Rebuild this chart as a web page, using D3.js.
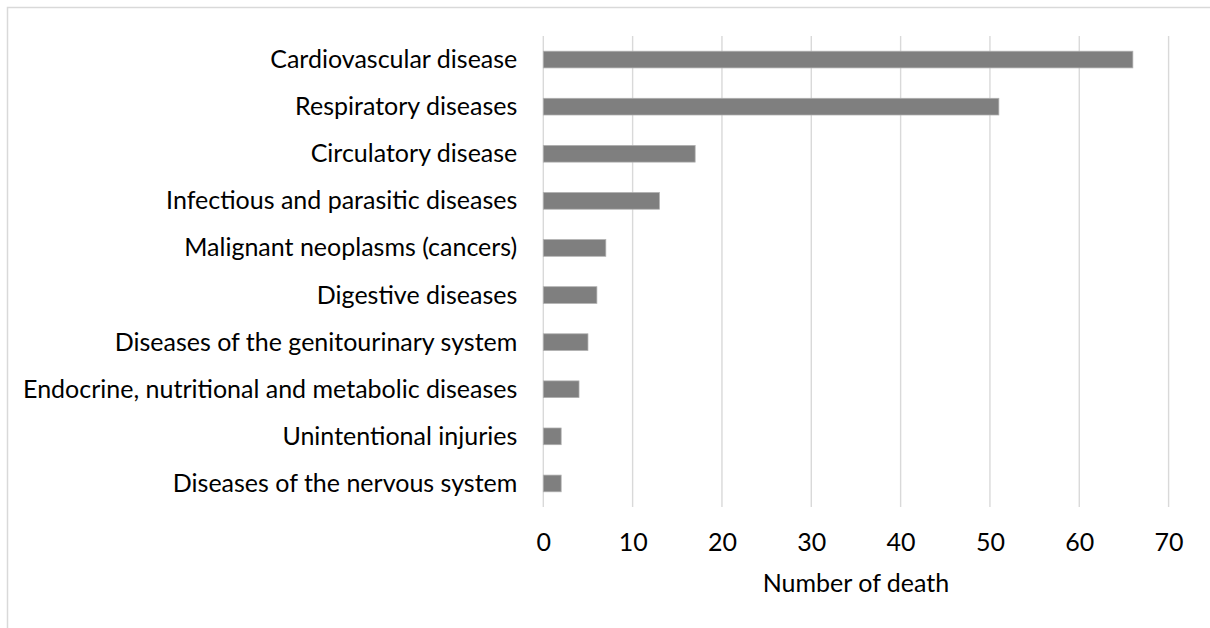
<!DOCTYPE html>
<html>
<head>
<meta charset="utf-8">
<script src="https://cdn.jsdelivr.net/npm/d3@7"></script>
<style>
  html, body { margin: 0; padding: 0; background: #ffffff; }
  svg { display: block; }
  text { font-family: Lato, "Open Sans", sans-serif; fill: #000000; }
</style>
</head>
<body>
<svg id="chart" width="1210" height="628"></svg>
<script>
// Causes of death, top to bottom
const categories = [
  "Cardiovascular disease",
  "Respiratory diseases",
  "Circulatory disease",
  "Infectious and parasitic diseases",
  "Malignant neoplasms (cancers)",
  "Digestive diseases",
  "Diseases of the genitourinary system",
  "Endocrine, nutritional and metabolic diseases",
  "Unintentional injuries",
  "Diseases of the nervous system"
];
const deaths = [66, 51, 17, 13, 7, 6, 5, 4, 2, 2];
const xTicks = [0, 10, 20, 30, 40, 50, 60, 70];
const xTitle = "Number of death";

const svg = d3.select("#chart");
const W = 1210, H = 628;
const plot = { left: 543.3, right: 1168.6, top: 36, bottom: 507 };
const fontSize = "25px";

// outer frame
svg.append("rect")
  .attr("x", 7.5).attr("y", 7.5)
  .attr("width", W).attr("height", H)
  .attr("fill", "none").attr("stroke", "#d9d9d9").attr("stroke-width", 1.5);

const x = d3.scaleLinear().domain([0, 70]).range([plot.left, plot.right]);
const y = d3.scaleBand().domain(categories).range([plot.top, plot.bottom])
  .paddingInner(0.645).paddingOuter(0.3225);

// vertical gridlines
svg.append("g").selectAll("line").data(xTicks).join("line")
  .attr("x1", d => x(d)).attr("x2", d => x(d))
  .attr("y1", plot.top).attr("y2", plot.bottom)
  .attr("stroke", "#d9d9d9").attr("stroke-width", 1.4);

// bars
svg.append("g").selectAll("rect").data(categories).join("rect")
  .attr("x", x(0))
  .attr("y", d => y(d))
  .attr("width", (d, i) => x(deaths[i]) - x(0))
  .attr("height", y.bandwidth())
  .attr("fill", "#7f7f7f")
  .attr("stroke", "#b0b0b0").attr("stroke-width", 0.75);

// category axis (labels only)
const yAxis = d3.axisLeft(y).tickSize(0).tickPadding(26);
const gy = svg.append("g").attr("transform", `translate(${plot.left},0)`).call(yAxis);
gy.select(".domain").remove();
gy.selectAll("text")
  .style("font-size", fontSize).style("font-family", "Lato, sans-serif")
  .attr("fill", "#000").attr("dy", "0.34em");

// value axis (labels only)
const xAxis = d3.axisBottom(x).tickValues(xTicks).tickSize(0).tickFormat(d3.format("d"));
const gx = svg.append("g").attr("transform", `translate(0,${plot.bottom})`).call(xAxis);
gx.select(".domain").remove();
gx.selectAll("text")
  .style("font-size", fontSize).style("font-family", "Lato, sans-serif")
  .attr("fill", "#000").attr("dy", null).attr("y", 44);

// axis title
svg.append("text")
  .attr("x", (plot.left + plot.right) / 2)
  .attr("y", 592)
  .attr("text-anchor", "middle")
  .style("font-size", fontSize)
  .text(xTitle);
</script>
</body>
</html>
